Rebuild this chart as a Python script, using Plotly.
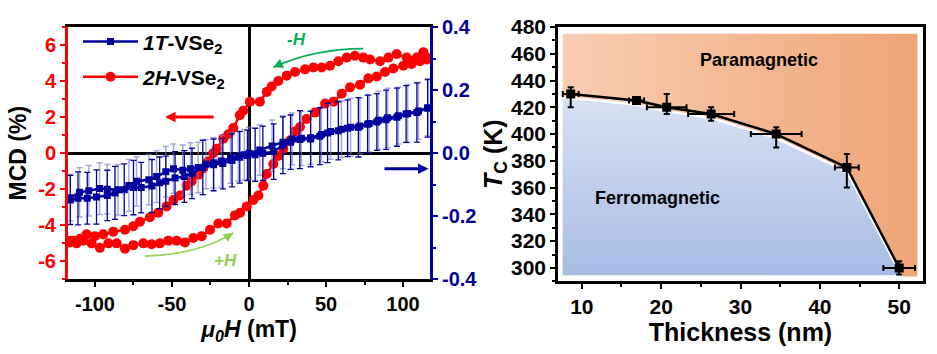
import plotly.graph_objects as go

FONT = "Liberation Sans, Arial, sans-serif"
RED = "#ff0000"
NAVY = "#00009c"
LIGHTBAR = "rgba(120,120,205,0.65)"
GREEN_DARK = "#00b050"
GREEN_LIGHT = "#92d050"

# ---------------- Left panel data ----------------
# 2H-VSe2, MCD (%) vs mu0H (mT); field sweeping down (-H) then up (+H)
h2_down_x = [115.4, 113.2, 108.9, 102.4, 95.9, 90.5, 85.1, 78.6, 74.2, 68.8, 63.4, 58.0, 52.6, 47.2,
             41.8, 36.4, 29.9, 24.5, 19.0, 14.7, 11.5, 7.1, 0.6, -3.7, -6.0, -10.2, -13.4, -16.7,
             -21.0, -23.2, -26.4, -29.7, -32.9, -37.2, -40.5, -44.8, -49.1, -53.5, -58.9, -64.3,
             -70.8, -75.1, -80.5, -88.1, -94.6, -100.0, -105.4, -109.7, -114.1, -116.2]
h2_down_y = [5.3, 5.6, 5.3, 5.3, 5.5, 5.3, 5.1, 5.2, 5.3, 5.4, 5.3, 5.1, 4.85, 4.75,
             4.75, 4.65, 4.5, 4.3, 4.0, 3.7, 3.4, 2.85, 2.85, 2.35, 2.1, 1.4, 1.05, 0.8,
             0.25, 0.0, -0.45, -0.85, -1.2, -1.55, -1.8, -2.35, -2.6, -2.95, -3.3, -3.55,
             -3.8, -4.05, -4.25, -4.35, -4.5, -4.6, -4.5, -4.75, -4.85, -4.95]
h2_up_x = [-116.2, -111.9, -107.6, -102.2, -96.8, -91.3, -85.9, -80.5, -75.1, -68.6, -63.2, -57.8,
           -52.4, -47.0, -41.6, -36.1, -30.7, -25.3, -19.9, -14.5, -9.1, -5.8, -1.5, 2.8, 6.1, 9.3,
           11.5, 15.8, 19.0, 22.3, 26.6, 29.9, 33.1, 37.4, 42.9, 49.4, 54.8, 60.2, 65.6, 72.1,
           77.5, 82.9, 88.3, 93.7, 100.2, 105.6, 111.0, 115.4]
h2_up_y = [-4.85, -5.0, -4.85, -5.0, -5.25, -5.0, -5.0, -5.3, -5.1, -5.0, -5.05, -5.0,
           -4.85, -4.85, -4.95, -4.7, -4.6, -4.25, -3.9, -3.9, -3.45, -3.3, -2.95, -2.6, -2.35, -1.8,
           -1.15, -0.6, -0.15, 0.25, 0.7, 1.2, 1.45, 1.9, 2.25, 2.75, 2.85, 3.3, 3.65, 3.8,
           4.15, 4.25, 4.5, 4.7, 4.85, 4.95, 5.1, 5.2]

# 1T-VSe2, right axis (MCD, %)
t1_down_x = [116, 110, 103, 97, 90, 84, 78, 72, 66, 60, 53, 47, 40, 34, 28, 22, 15, 7, 0,
             -3, -7, -12, -18, -23, -28, -33, -38, -43, -49, -54, -60, -65, -73, -78, -85,
             -92, -97, -104, -110, -116]
t1_down_y = [0.143, 0.134, 0.126, 0.119, 0.112, 0.104, 0.094, 0.086, 0.082, 0.076, 0.069, 0.059,
             0.049, 0.047, 0.045, 0.035, 0.023, 0.010, 0.0, -0.005, -0.010, -0.015, -0.025,
             -0.030, -0.035, -0.045, -0.049, -0.054, -0.049, -0.059, -0.074, -0.084, -0.089,
             -0.102, -0.116, -0.114, -0.112, -0.119, -0.124, -0.141]
t1_down_err = [0.088, 0.090, 0.092, 0.090, 0.094, 0.092, 0.090, 0.088, 0.092, 0.090, 0.088, 0.086,
               0.084, 0.086, 0.082, 0.084, 0.082, 0.080, 0.082, 0.080, 0.078, 0.080, 0.082,
               0.080, 0.078, 0.080, 0.082, 0.080, 0.078, 0.080, 0.082, 0.080, 0.078, 0.082,
               0.080, 0.078, 0.082, 0.080, 0.078, 0.074]
t1_up_x = [-116, -111, -105, -99, -92, -87, -81, -75, -70, -63, -58, -54, -48, -42, -37, -30,
           -23, -17, -11, -6, -1, 4, 9, 16, 22, 27, 33, 40, 46, 51, 58, 64, 71, 77, 83, 89,
           96, 102, 109, 116]
t1_up_y = [-0.148, -0.143, -0.143, -0.139, -0.134, -0.126, -0.116, -0.109, -0.109, -0.104, -0.094,
           -0.089, -0.079, -0.074, -0.064, -0.045, -0.037, -0.033, -0.023, -0.013, -0.007,
           -0.005, 0.0, 0.005, 0.025, 0.035, 0.043, 0.045, 0.054, 0.064, 0.071, 0.079, 0.082,
           0.092, 0.099, 0.106, 0.114, 0.124, 0.129, 0.143]
t1_up_err = [0.078, 0.084, 0.082, 0.086, 0.080, 0.084, 0.082, 0.086, 0.080, 0.084, 0.082, 0.080,
             0.084, 0.082, 0.080, 0.086, 0.082, 0.080, 0.084, 0.082, 0.080, 0.084, 0.086, 0.088,
             0.090, 0.086, 0.092, 0.088, 0.090, 0.094, 0.092, 0.090, 0.094, 0.092, 0.090, 0.094,
             0.092, 0.090, 0.094, 0.092]

x_tickvals = [-100, -50, 0, 50, 100]
x_ticktext = ["-100", "-50", "0", "50", "100"]
yl_tickvals = [-6, -4, -2, 0, 2, 4, 6]
yl_ticktext = ["-6", "-4", "-2", "0", "2", "4", "6"]
yr_tickvals = [-0.4, -0.2, 0.0, 0.2, 0.4]
yr_ticktext = ["-0.4", "-0.2", "0.0", "0.2", "0.4"]

# ---------------- Right panel data ----------------
thick = [8.6, 16.9, 20.7, 26.3, 34.5, 43.4, 50.0]
tc = [430, 425, 420, 415, 400, 375, 300]
thick_err = [1.0, 0.95, 2.5, 2.9, 3.2, 1.5, 2.0]
tc_err_plus = [5, 2, 10, 5, 5, 10, 5]
tc_err_minus = [10, 2, 5, 5, 10, 15, 5]

fig = go.Figure()

# ---- left panel traces ----
fig.add_trace(go.Scatter(
    x=t1_down_x, y=t1_down_y, yaxis="y2", mode="lines+markers",
    line=dict(color=NAVY, width=2.5), marker=dict(symbol="square", size=7, color=NAVY),
    error_y=dict(type="data", array=t1_down_err, color=LIGHTBAR, thickness=1.5, width=3),
    name="<i>1T</i>-VSe<sub>2</sub>", legendgroup="a", showlegend=True))
fig.add_trace(go.Scatter(
    x=t1_up_x, y=t1_up_y, yaxis="y2", mode="lines+markers",
    line=dict(color=NAVY, width=2.5), marker=dict(symbol="square", size=7, color=NAVY),
    error_y=dict(type="data", array=t1_up_err, color=NAVY, thickness=1.3, width=3),
    legendgroup="a", showlegend=False))
fig.add_trace(go.Scatter(
    x=h2_down_x + h2_up_x, y=h2_down_y + h2_up_y, mode="lines+markers",
    line=dict(color=RED, width=2.5), marker=dict(symbol="circle", size=10, color=RED),
    name="<i>2H</i>-VSe<sub>2</sub>", legendgroup="b", showlegend=True))

# ---- right panel traces ----
bg_x = [7.6, 52.3, 52.3, 7.6, 7.6]
bg_y = [293.5, 293.5, 475, 475, 293.5]
fig.add_trace(go.Scatter(
    x=bg_x, y=bg_y, xaxis="x2", yaxis="y3", mode="none", fill="toself",
    fillgradient=dict(type="horizontal", colorscale=[[0, "#f8cdb2"], [1, "#efa576"]]),
    showlegend=False, hoverinfo="skip"))

off = 3.0
fm_x = [7.6] + thick + [thick[-1] + 0.35, 7.6]
fm_y = [tc[0] - off] + [v - off for v in tc] + [293.5, 293.5]
fig.add_trace(go.Scatter(
    x=fm_x, y=fm_y, xaxis="x2", yaxis="y3", mode="lines", fill="toself",
    line=dict(color="white", width=2.5),
    fillgradient=dict(type="vertical", colorscale=[[0, "#a7bbe4"], [1, "#d8e1f2"]]),
    showlegend=False, hoverinfo="skip"))

fig.add_trace(go.Scatter(
    x=thick, y=tc, xaxis="x2", yaxis="y3", mode="lines+markers",
    line=dict(color="black", width=2.5), marker=dict(symbol="square", size=9, color="black"),
    error_x=dict(type="data", array=thick_err, color="black", thickness=2, width=3),
    error_y=dict(type="data", array=tc_err_plus, arrayminus=tc_err_minus, symmetric=False,
                 color="black", thickness=2, width=3),
    showlegend=False))

W, H = 937, 354

fig.update_layout(
    width=W, height=H, margin=dict(l=0, r=0, t=0, b=0),
    paper_bgcolor="white", plot_bgcolor="white",
    font=dict(family=FONT, color="black"),
    showlegend=True,
    legend=dict(x=78 / W, y=1 - 10 / H, xanchor="left", yanchor="top",
                bgcolor="rgba(0,0,0,0)", itemwidth=55, tracegroupgap=5,
                traceorder="grouped",
                font=dict(family=FONT, size=21, weight="bold", color="black")),
    xaxis=dict(domain=[68 / W, 430 / W], range=[-117.5, 117.5], anchor="y",
               showline=True, linecolor="black", linewidth=2.5, mirror=True,
               showgrid=False, zeroline=True, zerolinecolor="black", zerolinewidth=2.5,
               tickvals=x_tickvals, ticktext=x_ticktext, ticks="outside", ticklen=5,
               tickwidth=2, tickcolor="black",
               minor=dict(dtick=25, ticks="outside", ticklen=3, tickwidth=2, tickcolor="black"),
               tickfont=dict(family=FONT, size=20, weight="bold"),
               title=dict(text="<i>μ<sub>0</sub>H</i> (mT)", standoff=7,
                          font=dict(family=FONT, size=23, weight="bold"))),
    yaxis=dict(domain=[1 - 286 / H, 1 - 16 / H], range=[-7, 7], anchor="x",
               showline=True, linecolor=RED, linewidth=3, showgrid=False,
               zeroline=True, zerolinecolor="black", zerolinewidth=2.5,
               tickvals=yl_tickvals, ticktext=yl_ticktext, ticks="outside", ticklen=5,
               tickwidth=2, tickcolor=RED,
               minor=dict(dtick=1, ticks="outside", ticklen=3, tickwidth=2, tickcolor=RED),
               tickfont=dict(family=FONT, size=20, weight="bold", color=RED),
               title=dict(text="MCD (%)", standoff=6,
                          font=dict(family=FONT, size=23, weight="bold"))),
    yaxis2=dict(overlaying="y", side="right", anchor="x", range=[-0.4, 0.4],
                showline=True, linecolor=NAVY, linewidth=3, showgrid=False, zeroline=False,
                tickvals=yr_tickvals, ticktext=yr_ticktext, ticks="outside", ticklen=5,
                tickwidth=2, tickcolor=NAVY,
                minor=dict(dtick=0.1, ticks="outside", ticklen=3, tickwidth=2, tickcolor=NAVY),
                tickfont=dict(family=FONT, size=20, weight="bold", color=NAVY)),
    xaxis2=dict(domain=[558 / W, 923 / W], range=[7, 53], anchor="y3",
                showline=True, linecolor="black", linewidth=2.5, mirror=True,
                showgrid=False, zeroline=False, dtick=10, ticks="outside", ticklen=5,
                tickwidth=2, tickcolor="black",
                minor=dict(dtick=5, ticks="outside", ticklen=3, tickwidth=2, tickcolor="black"),
                tickfont=dict(family=FONT, size=21, weight="bold"),
                title=dict(text="Thickness (nm)", standoff=6,
                           font=dict(family=FONT, size=25, weight="bold"))),
    yaxis3=dict(domain=[1 - 288 / H, 1 - 16 / H], range=[290, 480], anchor="x2",
                showline=True, linecolor="black", linewidth=2.5, mirror=True,
                showgrid=False, zeroline=False, dtick=20, ticks="outside", ticklen=5,
                tickwidth=2, tickcolor="black",
                minor=dict(dtick=10, ticks="outside", ticklen=3, tickwidth=2, tickcolor="black"),
                tickfont=dict(family=FONT, size=21, weight="bold"),
                title=dict(text="<i>T</i><sub>C</sub> (K)", standoff=2,
                           font=dict(family=FONT, size=25, weight="bold"))),
)

# ---- arrows and labels (left panel) ----
ann = []
ann.append(dict(x=-54.5, y=2.0, ax=-22, ay=2.0, xref="x", yref="y", axref="x", ayref="y",
                showarrow=True, arrowhead=2, arrowsize=0.7, arrowwidth=3, arrowcolor=RED, text=""))
ann.append(dict(x=116.5, y=-0.0495, ax=87, ay=-0.0495, xref="x", yref="y2", axref="x", ayref="y2",
                showarrow=True, arrowhead=2, arrowsize=0.7, arrowwidth=3, arrowcolor=NAVY, text=""))

# curved arrows
def curve(p0, c, p1, color):
    fig.add_shape(type="path", xref="x", yref="y",
                  path=f"M {p0[0]},{p0[1]} Q {c[0]},{c[1]} {p1[0]},{p1[1]}",
                  line=dict(color=color, width=1.6))
    dx, dy = p1[0] - c[0], p1[1] - c[1]
    ann.append(dict(x=p1[0], y=p1[1], ax=p1[0] - 0.15 * dx, ay=p1[1] - 0.15 * dy,
                    xref="x", yref="y", axref="x", ayref="y", showarrow=True, arrowhead=2,
                    arrowsize=1.2, arrowwidth=1.6, arrowcolor=color, text=""))

curve((74.2, 5.8), (42, 5.8), (15.8, 4.76), GREEN_DARK)
curve((-67.5, -5.71), (-32, -5.6), (-10.2, -4.42), GREEN_LIGHT)

ann.append(dict(x=31, y=6.3, xref="x", yref="y", text="<i>-H</i>", showarrow=False,
                font=dict(family=FONT, size=17, weight="bold", color=GREEN_DARK)))
ann.append(dict(x=-15.5, y=-5.95, xref="x", yref="y", text="<i>+H</i>", showarrow=False,
                font=dict(family=FONT, size=17, weight="bold", color=GREEN_LIGHT)))

# right panel labels
ann.append(dict(x=32.3, y=455, xref="x2", yref="y3", text="Paramagnetic", showarrow=False,
                font=dict(family=FONT, size=18, weight="bold", color="black")))
ann.append(dict(x=19.6, y=352, xref="x2", yref="y3", text="Ferromagnetic", showarrow=False,
                font=dict(family=FONT, size=18, weight="bold", color="black")))

fig.update_layout(annotations=ann)
fig.write_html("out.html")
